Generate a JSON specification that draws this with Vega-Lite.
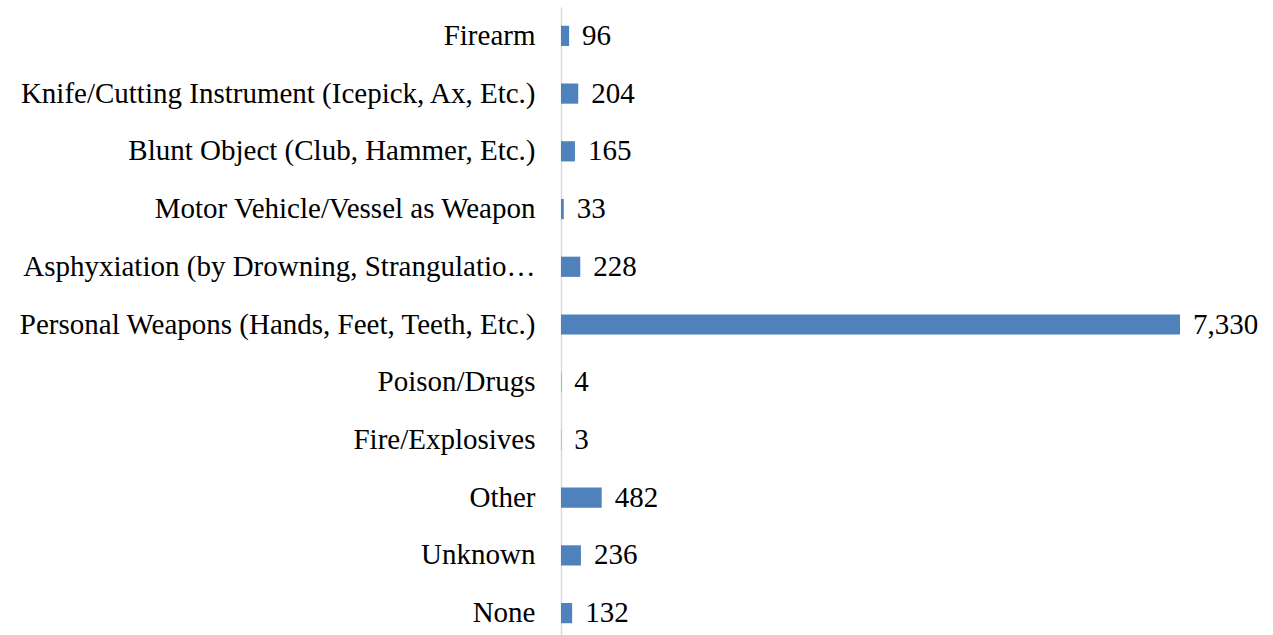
{
  "$schema": "https://vega.github.io/schema/vega-lite/v6.json",
  "autosize": {"type": "none"},
  "padding": {"left": 561, "top": 7, "right": 93, "bottom": 0},
  "width": 619,
  "height": 635,
  "background": "white",
  "config": {"view": {"stroke": null}, "font": "Liberation Serif"},
  "data": {
    "values": [
      {"weapon": "Firearm", "count": 96},
      {"weapon": "Knife/Cutting Instrument (Icepick, Ax, Etc.)", "count": 204},
      {"weapon": "Blunt Object (Club, Hammer, Etc.)", "count": 165},
      {"weapon": "Motor Vehicle/Vessel as Weapon", "count": 33},
      {"weapon": "Asphyxiation (by Drowning, Strangulation, Suffocation, Gas)", "count": 228},
      {"weapon": "Personal Weapons (Hands, Feet, Teeth, Etc.)", "count": 7330},
      {"weapon": "Poison/Drugs", "count": 4},
      {"weapon": "Fire/Explosives", "count": 3},
      {"weapon": "Other", "count": 482},
      {"weapon": "Unknown", "count": 236},
      {"weapon": "None", "count": 132}
    ]
  },
  "encoding": {
    "y": {
      "field": "weapon",
      "type": "nominal",
      "sort": null,
      "scale": {"paddingInner": 0.65, "paddingOuter": 0.325},
      "axis": {
        "title": null,
        "ticks": false,
        "domainColor": "#D9D9D9",
        "domainWidth": 1.5,
        "labelFont": "Liberation Serif",
        "labelFontSize": 29,
        "labelColor": "#000000",
        "labelPadding": 26,
        "labelLimit": 518
      }
    },
    "x": {
      "field": "count",
      "type": "quantitative",
      "scale": {"domain": [0, 7330], "nice": false, "zero": true},
      "axis": null
    }
  },
  "layer": [
    {"mark": {"type": "bar", "color": "#4F81BD"}},
    {
      "mark": {"type": "text", "align": "left", "baseline": "middle", "dx": 13, "font": "Liberation Serif", "fontSize": 29, "color": "#000000"},
      "encoding": {"text": {"field": "count", "type": "quantitative", "format": ","}}
    }
  ]
}
